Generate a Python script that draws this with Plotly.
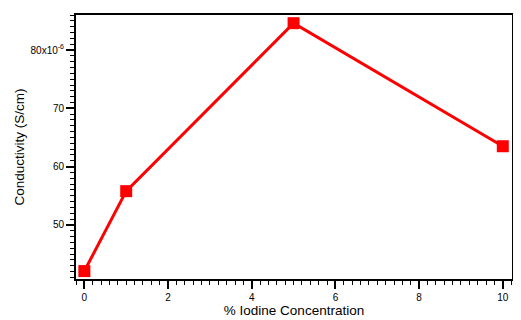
import plotly.graph_objects as go

# % iodine vs conductivity (in units of 1e-6 S/cm)
iodine_pct = [0, 1, 5, 10]
conductivity = [42.1, 55.8, 84.6, 63.5]

y_tickvals = [50, 60, 70, 80]
y_ticktext = ["50", "60", "70", "80x10<sup>-6</sup>"]
x_tickvals = [0, 2, 4, 6, 8, 10]

FONT = "Liberation Sans, Arial, sans-serif"

trace = go.Scatter(
    x=iodine_pct,
    y=conductivity,
    mode="lines+markers",
    line=dict(color="#ff0000", width=3),
    marker=dict(symbol="square", size=12, color="#ff0000"),
    showlegend=False,
)

fig = go.Figure(data=[trace])
# page body has an 8px margin, so the figure is sized to fit inside it
fig.update_layout(
    width=513,
    height=312,
    margin=dict(l=68, r=9, t=7, b=41, autoexpand=False),
    paper_bgcolor="white",
    plot_bgcolor="white",
    font=dict(family=FONT, color="black"),
)
fig.update_xaxes(
    range=[-0.2, 10.22],
    tickvals=x_tickvals,
    ticks="outside", ticklen=8, tickwidth=1.5, tickcolor="black",
    tickfont=dict(size=10),
    minor=dict(dtick=0.2, tick0=0, ticks="outside", ticklen=4, tickwidth=1, tickcolor="black"),
    showline=True, mirror=True, linecolor="black", linewidth=2,
    showgrid=False, zeroline=False,
    title=dict(text="% Iodine Concentration", font=dict(size=13.5), standoff=1),
)
fig.update_yaxes(
    range=[40.74, 86.0],
    tickvals=y_tickvals, ticktext=y_ticktext,
    ticks="outside", ticklen=8, tickwidth=1.5, tickcolor="black",
    tickfont=dict(size=10),
    minor=dict(dtick=1, tick0=0, ticks="outside", ticklen=4, tickwidth=1, tickcolor="black"),
    showline=True, mirror=True, linecolor="black", linewidth=2,
    showgrid=False, zeroline=False,
    title=dict(text="Conductivity (S/cm)", font=dict(size=13.5), standoff=3),
)

fig.write_html("out.html")
